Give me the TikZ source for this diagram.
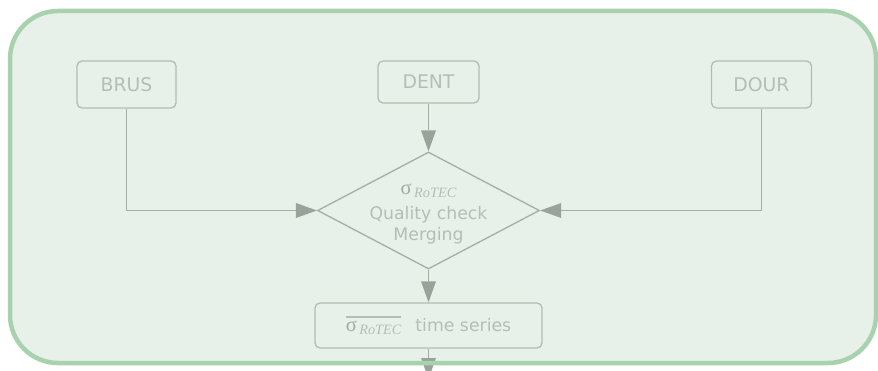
\documentclass[tikz,border=0pt]{standalone}
\usepackage{fontspec}
\setmainfont{DejaVu Sans}
\newfontfamily\seriffont{Liberation Serif}
\usetikzlibrary{shapes.geometric,arrows.meta}

\definecolor{panelfill}{HTML}{E7F1E9}
\definecolor{paneledge}{HTML}{A8D1AE}
\definecolor{boxedge}{HTML}{B3BCB3}
\definecolor{boxtext}{HTML}{B6BCB6}
\definecolor{wire}{HTML}{A5ADA5}
\definecolor{tipfill}{HTML}{9AA39A}
\definecolor{sigmacol}{HTML}{A2AAA2}

% sigma with the RoTEC subscript
\newcommand{\sigrotec}{{\color{sigmacol}\seriffont\fontsize{20.5}{20}\selectfont σ}\kern2.5pt\raisebox{-3pt}{\seriffont\itshape\fontsize{14.3}{14}\selectfont RoTEC}}
% the same with a bar over it
\newcommand{\barsig}{\setbox0\hbox{\sigrotec}\vbox{\hrule height 1.6pt width \wd0\kern 3pt\box0}}

\tikzset{
  station/.style={draw=boxedge, line width=1.3pt, rounded corners=5pt,
    text=boxtext, font=\fontsize{18.8}{20}\selectfont, inner sep=0pt},
  mergebox/.style={diamond, draw=wire, line width=1.3pt, inner sep=0pt,
    minimum width=222pt, minimum height=117pt},
  mergetext/.style={text=boxtext, inner sep=0pt, anchor=base,
    font=\fontsize{17.3}{20}\selectfont},
  wireline/.style={draw=wire, line width=1.3pt,
    -{Triangle[length=21pt,width=15pt,fill=tipfill,line width=0pt]}},
}

\begin{document}
\begin{tikzpicture}[x=1pt,y=-1pt]
  \useasboundingbox (0,0) rectangle (878,371);
  \clip (0,0) rectangle (878,371);

  % panel background
  \fill[panelfill, rounded corners=48pt] (10,11) rectangle (876,363);

  % input stations
  \node[station, minimum width=99pt, minimum height=47pt] (brus) at (126.5,84.5) {BRUS};
  \node[station, minimum width=101pt, minimum height=42pt] (dent) at (428.5,82) {DENT};
  \node[station, minimum width=100pt, minimum height=47pt] (dour) at (761.5,84.5) {DOUR};

  % merging step
  \node[mergebox] (merge) at (428.5,210.5) {};
  \node[mergetext] (msig) at (428.5,195) {\sigrotec};
  \node[mergetext] (mqual) at (428.5,219.5) {Quality check};
  \node[mergetext] (mmerge) at (428.5,241) {Merging};

  % output series
  \node[station, minimum width=227pt, minimum height=45pt, font=\fontsize{17.3}{20}\selectfont]
    (series) at (428.5,325.5) {\barsig\kern14pt time series};

  \coordinate (next) at (428.5,379);

  % connectors
  \draw[wireline] (brus.south) |- (merge.west);
  \draw[wireline] (dour.south) |- (merge.east);
  \draw[wireline] (dent.south) -- (merge.north);
  \draw[wireline] (merge.south) -- (series.north);
  \draw[wireline] (series.south) -- (next);

  % panel outline
  \draw[paneledge, line width=4.5pt, rounded corners=48pt] (10,11) rectangle (876,363);
\end{tikzpicture}
\end{document}
